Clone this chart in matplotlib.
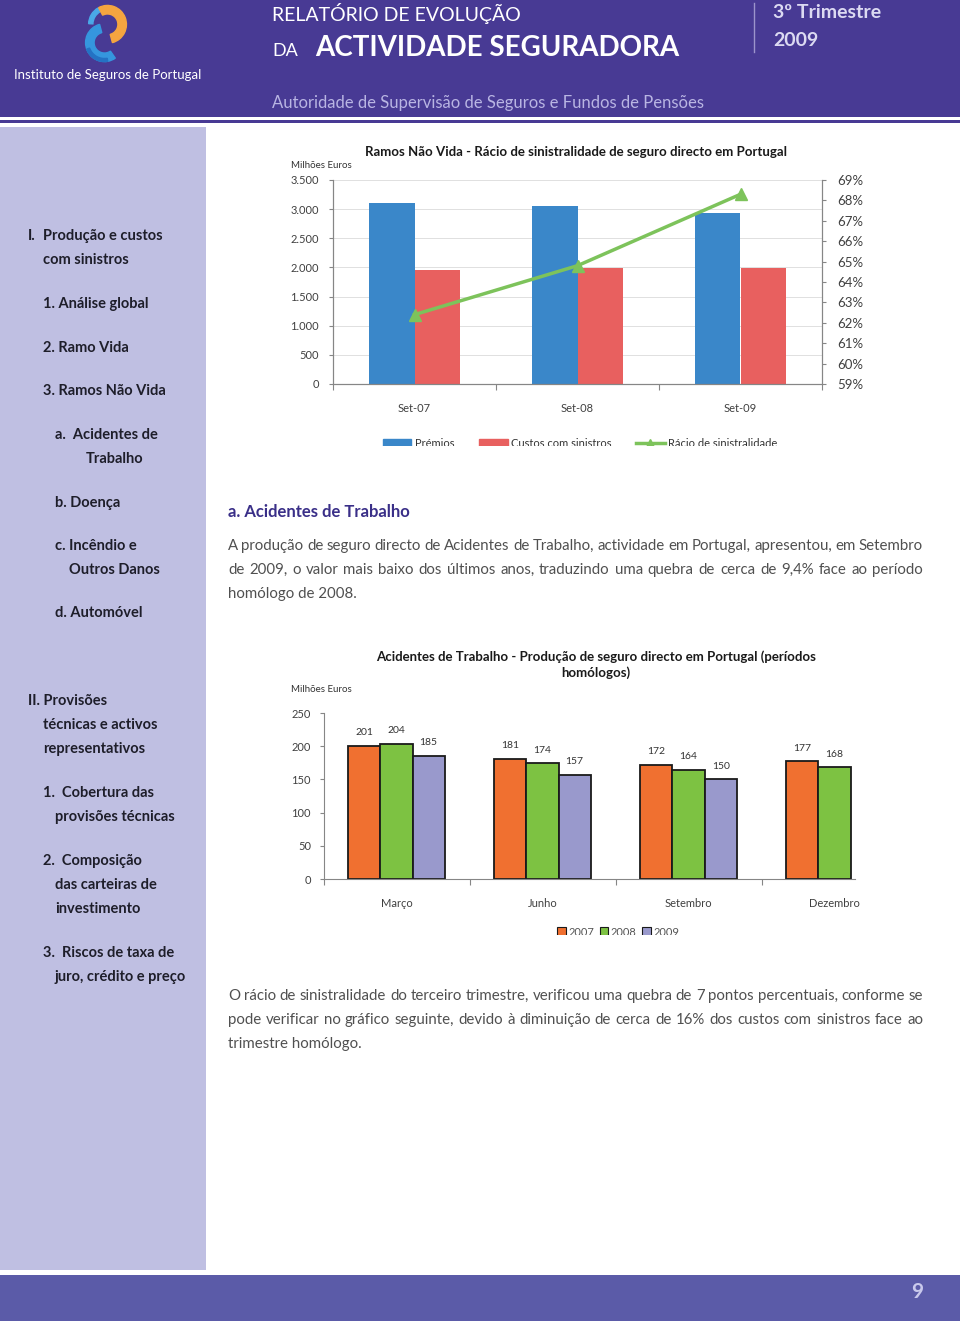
import numpy as np
import matplotlib
matplotlib.use('Agg')
import matplotlib.pyplot as plt
from matplotlib.patches import Rectangle, Wedge, Patch
from matplotlib.lines import Line2D
from matplotlib.ticker import FuncFormatter

plt.rcParams['font.family'] = ['Lato', 'DejaVu Sans']

# --- data: chart 1 (Ramos Nao Vida)
cats1 = ['Set-07', 'Set-08', 'Set-09']
premios = [3100, 3060, 2930]
custos = [1950, 1985, 1995]
racio = [62.4, 64.8, 68.3]

# --- data: chart 2 (Acidentes de Trabalho)
months = ['Março', 'Junho', 'Setembro', 'Dezembro']
years = ['2007', '2008', '2009']
v2007 = [201, 181, 172, 177]
v2008 = [204, 174, 164, 168]
v2009 = [185, 157, 150, np.nan]

sidebar = [
    (28, 236, 'I.'), (43, 236, 'Produção e custos'), (43, 260, 'com sinistros'),
    (43, 304, '1. Análise global'), (43, 348, '2. Ramo Vida'), (43, 391, '3. Ramos Não Vida'),
    (55, 435, 'a.  Acidentes de'), (86, 459, 'Trabalho'), (55, 503, 'b. Doença'),
    (55, 546, 'c. Incêndio e'), (69, 570, 'Outros Danos'), (55, 613, 'd. Automóvel'),
    (28, 701, 'II. Provisões'), (43, 725, 'técnicas e activos'), (43, 749, 'representativos'),
    (43, 793, '1.  Cobertura das'), (55, 817, 'provisões técnicas'),
    (43, 861, '2.  Composição'), (55, 885, 'das carteiras de'), (55, 909, 'investimento'),
    (43, 953, '3.  Riscos de taxa de'), (55, 977, 'juro, crédito e preço'),
]

para1 = ['A produção de seguro directo de Acidentes de Trabalho, actividade em Portugal, apresentou, em Setembro',
         'de 2009, o valor mais baixo dos últimos anos, traduzindo uma quebra de cerca de 9,4% face ao período',
         'homólogo de 2008.']
para2 = ['O rácio de sinistralidade do terceiro trimestre, verificou uma quebra de 7 pontos percentuais, conforme se',
         'pode verificar no gráfico seguinte, devido à diminuição de cerca de 16% dos custos com sinistros face ao',
         'trimestre homólogo.']

W, H = 960, 1321
fig = plt.figure(figsize=(W / 100, H / 100), dpi=100)
fig.patch.set_facecolor('white')


def box(x0, y0, x1, y1):
    return [x0 / W, 1 - y1 / H, (x1 - x0) / W, (y1 - y0) / H]


def rect(x0, y0, x1, y1, color, z=-10):
    fig.add_artist(Rectangle((x0 / W, 1 - y1 / H), (x1 - x0) / W, (y1 - y0) / H,
                             transform=fig.transFigure, color=color, lw=0, zorder=z))


def ftxt(x, y, s, **kw):
    kw.setdefault('va', 'center')
    return fig.text(x / W, 1 - y / H, s, **kw)


def justify(x0, x1, y, line, **kw):
    words = line.split(' ')
    r = fig.canvas.get_renderer()
    ts = [ftxt(x0, y, w, ha='left', **kw) for w in words]
    widths = [t.get_window_extent(r).width for t in ts]
    gap = (x1 - x0 - sum(widths)) / (len(words) - 1)
    x = x0
    for t, wd in zip(ts, widths):
        t.set_x(x / W)
        x += wd + gap


def paragraph(lines, y0, **kw):
    for i, line in enumerate(lines):
        y = y0 + 24 * i
        if i < len(lines) - 1:
            justify(228, 923, y, line, **kw)
        else:
            ftxt(228, y, line, **kw)


# page background blocks
rect(0, 0, W, 117, '#483A94')
rect(0, 120, W, 123, '#483A94')
rect(0, 127, 206, 1270, '#BFBFE2')
rect(0, 1275, W, H, '#5B5BA8')

# logo
lax = fig.add_axes(box(74, 3, 138, 64))
lax.set_xlim(-1, 1)
lax.set_ylim(-1, 1)
lax.set_aspect('equal')
lax.axis('off')
lax.add_patch(Wedge((0.05, 0.3), 0.62, 120, 178, width=0.14, color='#4AA8E8'))
lax.add_patch(Wedge((-0.05, -0.3), 0.62, 105, 305, width=0.28, color='#3596DE'))
lax.add_patch(Wedge((-0.05, -0.3), 0.62, 200, 280, width=0.1, color='#2472C4'))
lax.add_patch(Wedge((0.05, 0.3), 0.62, -75, 118, width=0.28, color='#F5A540'))

# header texts
ftxt(14, 75, 'Instituto de Seguros de Portugal', color='white', fontsize=9.5)
ftxt(272, 13, 'RELATÓRIO DE EVOLUÇÃO', color='white', fontsize=14)
ftxt(272, 51, 'DA', color='white', fontsize=13)
ftxt(315, 48, 'ACTIVIDADE SEGURADORA', color='white', fontsize=20, fontweight='bold')
fig.add_artist(Line2D([754 / W, 754 / W], [1 - 3 / H, 1 - 52 / H], transform=fig.transFigure,
                      color='#9C94CC', lw=1))
ftxt(773, 13, '3º Trimestre', color='#DCDAF2', fontsize=14, fontweight='bold')
ftxt(773, 40, '2009', color='#DCDAF2', fontsize=14, fontweight='bold')
ftxt(272, 103, 'Autoridade de Supervisão de Seguros e Fundos de Pensões', color='#B9B5E3', fontsize=12)
ftxt(917, 1292, '9', color='#C9C9EC', fontsize=15, fontweight='bold', ha='center')

# sidebar
for x, y, s in sidebar:
    ftxt(x, y, s, color='#1E1E2A', fontsize=10.5, fontweight='bold')

# section text
ftxt(228, 512, 'a. Acidentes de Trabalho', color='#3A2F88', fontsize=12, fontweight='bold')
paragraph(para1, 546, color='#505050', fontsize=10.8)
paragraph(para2, 996, color='#505050', fontsize=10.8)

# ---------------- chart 1
grey = '#868686'
tick_col = '#404040'
ax1 = fig.add_axes(box(333, 180, 822, 384))
x = np.arange(len(cats1))
w = 0.28
ax1.bar(x - w / 2, premios, w, color='#3A87C9')
ax1.bar(x + w / 2, custos, w, color='#E8605F')
ax1.set_xlim(-0.5, 2.5)
ax1.set_ylim(0, 3500)
ax1.set_yticks(np.arange(0, 3501, 500))
ax1.yaxis.set_major_formatter(FuncFormatter(lambda v, p: f'{int(v):,}'.replace(',', '.')))
ax1.yaxis.grid(True, color='#E0E0E0', lw=0.7)
ax1.set_axisbelow(True)
ax1.set_xticks([-0.5, 0.5, 1.5, 2.5])
ax1.set_xticklabels([])
ax1.set_xticks(x, minor=True)
ax1.set_xticklabels(cats1, minor=True)
ax1.tick_params(axis='x', which='major', length=4, color=grey)
ax1.tick_params(axis='x', which='minor', length=0, pad=14, labelsize=8, labelcolor=tick_col)
ax1.tick_params(axis='y', length=3, color=grey, pad=7, labelsize=8, labelcolor=tick_col)
for s in ['left', 'bottom', 'right']:
    ax1.spines[s].set_color(grey)
ax1.spines['top'].set_visible(False)

ax2 = ax1.twinx()
ax2.plot(x, racio, color='#7DC35B', lw=2.5, marker='^', ms=8)
ax2.set_ylim(59, 69)
ax2.set_yticks(np.arange(59, 70, 1))
ax2.yaxis.set_major_formatter(FuncFormatter(lambda v, p: f'{int(round(v))}%'))
ax2.tick_params(axis='y', length=3, color=grey, pad=8, labelsize=9.5, labelcolor=tick_col)
for s in ['left', 'bottom', 'right']:
    ax2.spines[s].set_color(grey)
ax2.spines['top'].set_visible(False)

ftxt(576, 152, 'Ramos Não Vida - Rácio de sinistralidade de seguro directo em Portugal',
     ha='center', fontsize=9.5, fontweight='bold', color='#1A1A1A')
ftxt(291, 165, 'Milhões Euros', fontsize=7, color='#333333')

h1 = [Patch(color='#3A87C9'), Patch(color='#E8605F'),
      Line2D([], [], color='#7DC35B', lw=2.5, marker='^', ms=6)]
fig.legend(h1, ['Prémios', 'Custos com sinistros', 'Rácio de sinistralidade'],
           loc='center', bbox_to_anchor=(580 / W, 1 - 443 / H), ncol=3, frameon=False,
           fontsize=8, handlelength=2.6, handleheight=0.5, columnspacing=2.2, handletextpad=0.3,
           labelcolor='#333333')
rect(370, 446, 800, 470, 'white', z=20)

# ---------------- chart 2
ax3 = fig.add_axes(box(323.5, 713, 855, 879))
xm = np.arange(len(months))
bw = 0.22
cols = ['#F07030', '#7DC242', '#9999CC']
for k, vals in enumerate([v2007, v2008, v2009]):
    xs = xm + (k - 1) * bw
    ax3.bar(xs, vals, bw, color=cols[k], edgecolor='#1A1A1A', lw=1.3)
    for xi, v in zip(xs, vals):
        if not np.isnan(v):
            ax3.text(xi, v + 20, f'{v:.0f}', ha='center', va='center', fontsize=7.5, color='#333333')
ax3.set_xlim(-0.5, -0.5 + (855 - 323.5) / 146)
ax3.set_ylim(0, 250)
ax3.set_yticks(np.arange(0, 251, 50))
ax3.set_xticks([-0.5, 0.5, 1.5, 2.5])
ax3.set_xticklabels([])
ax3.set_xticks(xm, minor=True)
ax3.set_xticklabels(months, minor=True)
ax3.tick_params(axis='x', which='major', length=4, color=grey)
ax3.tick_params(axis='x', which='minor', length=0, pad=14, labelsize=8, labelcolor=tick_col)
ax3.tick_params(axis='y', length=3, color=grey, pad=6, labelsize=8, labelcolor=tick_col)
for s in ['left', 'bottom']:
    ax3.spines[s].set_color(grey)
for s in ['top', 'right']:
    ax3.spines[s].set_visible(False)
ax3.patch.set_alpha(0)

ftxt(596, 665, 'Acidentes de Trabalho - Produção de seguro directo em Portugal (períodos\nhomólogos)',
     ha='center', multialignment='center', fontsize=9.5, fontweight='bold', color='#1A1A1A',
     linespacing=1.3)
ftxt(291, 690, 'Milhões Euros', fontsize=7, color='#333333')

h2 = [Patch(facecolor=c, edgecolor='#1A1A1A', lw=0.8) for c in cols]
fig.legend(h2, years, loc='center', bbox_to_anchor=(618 / W, 1 - 932 / H), ncol=3, frameon=False,
           fontsize=8, handlelength=0.8, handleheight=0.8, columnspacing=0.5, handletextpad=0.2,
           labelcolor='#555555')
rect(540, 935, 700, 950, 'white', z=20)

fig.savefig('out.png', dpi=100)
